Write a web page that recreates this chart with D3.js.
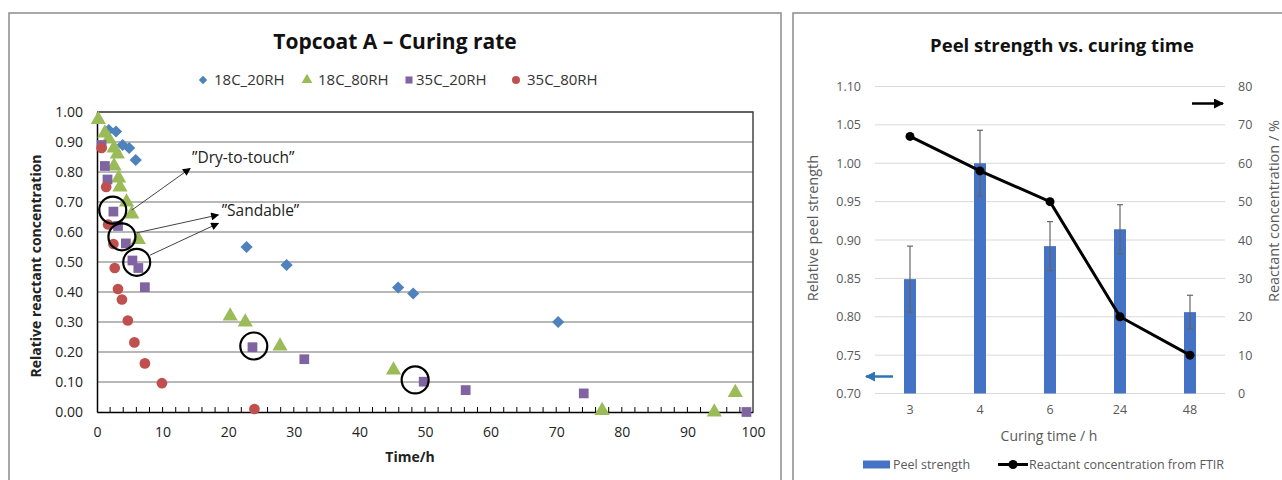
<!DOCTYPE html>
<meta charset="utf-8">
<style>
body { margin: 0; background: #fff; }
svg { font-family: "Open Sans", Lato, sans-serif; }
.grid line { stroke: #a0a0a0; stroke-width: 1.4px; }
.grid2 line { stroke: #d9d9d9; stroke-width: 1px; }
</style>
<svg width="1282" height="480"></svg>
<script src="https://d3js.org/d3.v7.min.js"></script>
<script>
// ---- left chart data: [time h, relative concentration]
var s18_20 = [[1.8,0.94],[2.9,0.935],[3.9,0.89],[4.9,0.88],[5.9,0.84],[22.8,0.55],[28.9,0.49],[45.9,0.415],[48.2,0.395],[70.3,0.30]];
var s18_80 = [[0.2,0.975],[1.2,0.93],[1.8,0.91],[2.6,0.88],[3.1,0.86],[2.6,0.82],[3.3,0.78],[3.5,0.75],[4.5,0.70],[5.3,0.66],[6.3,0.575],[20.3,0.32],[22.6,0.30],[27.9,0.22],[45.2,0.14],[77.0,0.005],[94.1,0.0],[97.3,0.065]];
var s35_20 = [[0.7,0.89],[1.2,0.82],[1.6,0.775],[2.5,0.668],[3.2,0.62],[4.4,0.562],[5.4,0.505],[6.3,0.48],[7.3,0.416],[23.7,0.216],[31.6,0.176],[49.8,0.101],[56.2,0.073],[74.2,0.062],[99.0,0.0]];
var s35_80 = [[0.7,0.88],[1.4,0.75],[1.7,0.625],[2.5,0.56],[2.7,0.48],[3.2,0.41],[3.8,0.375],[4.7,0.305],[5.7,0.232],[7.3,0.162],[9.9,0.096],[24.0,0.01]];
var seriesNames = ["18C_20RH", "18C_80RH", "35C_20RH", "35C_80RH"];
var seriesColors = ["#4f81bd", "#9bbb59", "#8064a2", "#c0504d"];
var seriesShapes = [d3.symbolDiamond2, d3.symbolTriangle, d3.symbolSquare, d3.symbolCircle];
var xTicksL = [0,10,20,30,40,50,60,70,80,90,100];
var yTicksL = [0,0.1,0.2,0.3,0.4,0.5,0.6,0.7,0.8,0.9,1.0];
// highlighted points (circles) and annotation arrows
var highlights = [[2.4,0.673],[3.8,0.584],[6.05,0.499],[23.9,0.22],[48.5,0.107]];
var arrowsL = [[[5.3,0.673],[14.2,0.812]],[[5.8,0.596],[18.5,0.657]],[[8.1,0.523],[18.5,0.629]]];
var labelsL = [["\u201DDry-to-touch\u201D",14.5,0.83],["\u201DSandable\u201D",19.0,0.655]];

// ---- right chart data
var cureTimes = ["3","4","6","24","48"];
var peel = [0.849, 1.0, 0.892, 0.914, 0.806];
var peelErr = [0.043, 0.043, 0.032, 0.032, 0.022];
var ftir = [67, 58, 50, 20, 10];
var yTicksR1 = [0.70,0.75,0.80,0.85,0.90,0.95,1.00,1.05,1.10];
var yTicksR2 = [0,10,20,30,40,50,60,70,80];

var svg = d3.select("svg");
var defs = svg.append("defs");
function marker(id, color, w, h) {
  defs.append("marker").attr("id", id).attr("viewBox", "0 0 10 10")
    .attr("refX", 9).attr("refY", 5).attr("markerWidth", w).attr("markerHeight", h)
    .attr("markerUnits", "userSpaceOnUse").attr("orient", "auto")
    .append("path").attr("d", "M0,0L10,5L0,10z").attr("fill", color);
}
marker("ahThin", "#000", 10, 8);
marker("ahBlack", "#000", 10, 10);
marker("ahBlue", "#2e75b6", 10, 10);

// panel frames
svg.append("rect").attr("x", 9).attr("y", 13).attr("width", 772).attr("height", 480)
  .attr("fill", "none").attr("stroke", "#8c8c8c").attr("stroke-width", 1.5);
svg.append("rect").attr("x", 793).attr("y", 13).attr("width", 500).attr("height", 480)
  .attr("fill", "none").attr("stroke", "#8c8c8c").attr("stroke-width", 1.5);

// =========== left chart
var x = d3.scaleLinear().domain([0, 100]).range([97, 753]);
var y = d3.scaleLinear().domain([0, 1]).range([412, 112]);

svg.append("text").attr("x", 395).attr("y", 49).attr("text-anchor", "middle")
  .attr("font-weight", "bold").attr("font-size", 21).attr("fill", "#111")
  .text("Topcoat A \u2013 Curing rate");

var grid = svg.append("g").attr("class", "grid");
grid.selectAll("line").data(yTicksL.slice(1)).enter().append("line")
  .attr("x1", x(0)).attr("x2", x(100)).attr("y1", y).attr("y2", y);
svg.append("path").attr("d", "M" + x(0) + "," + y(1) + "H" + x(100) + "V" + y(0))
  .attr("fill", "none").attr("stroke", "#444").attr("stroke-width", 1.5);

var xAxis = svg.append("g").attr("transform", "translate(0," + y(0) + ")")
  .call(d3.axisBottom(x).tickValues(xTicksL).tickSize(0).tickPadding(15).tickFormat(d3.format("d")));
xAxis.select(".domain").attr("stroke", "#000").attr("stroke-width", 1.5);
xAxis.selectAll("text").attr("font-size", 14).attr("fill", "#222").attr("font-family", "Open Sans");
svg.append("g").selectAll("line").data(d3.range(2, 100, 2)).enter().append("line")
  .attr("x1", x).attr("x2", x).attr("y1", y(0)).attr("y2", y(0) - 5)
  .attr("stroke", "#000").attr("stroke-width", 1);

var yAxis = svg.append("g").attr("transform", "translate(" + x(0) + ",0)")
  .call(d3.axisLeft(y).tickValues(yTicksL).tickSize(0).tickPadding(14).tickFormat(d3.format(".2f")));
yAxis.select(".domain").attr("stroke", "#000").attr("stroke-width", 1.5);
yAxis.selectAll("text").attr("font-size", 14).attr("fill", "#222").attr("font-family", "Open Sans");

svg.append("text").attr("transform", "translate(41,266) rotate(-90)").attr("text-anchor", "middle")
  .attr("font-weight", "bold").attr("font-size", 14).attr("fill", "#222")
  .text("Relative reactant concentration");
svg.append("text").attr("x", 410).attr("y", 462).attr("text-anchor", "middle")
  .attr("font-weight", "bold").attr("font-size", 14).attr("fill", "#222").text("Time/h");

// legend
var legX = [203, 307, 409, 516];
seriesNames.forEach(function (n, i) {
  var g = svg.append("g").attr("transform", "translate(" + legX[i] + ",80)");
  g.append("path").attr("d", d3.symbol().type(seriesShapes[i]).size(i == 0 ? 45 : 50)())
    .attr("fill", seriesColors[i]);
  g.append("text").attr("x", i == 2 ? 7 : 11).attr("y", 5).attr("font-size", 15).attr("fill", "#333").text(n);
});

// points
var allSeries = [s18_20, s18_80, s35_20, s35_80];
var sizes = [95, 100, 95, 90];
allSeries.forEach(function (s, i) {
  svg.append("g").selectAll("path").data(s).enter().append("path")
    .attr("transform", function (d) { return "translate(" + x(d[0]) + "," + y(d[1]) + ")"; })
    .attr("d", d3.symbol().type(seriesShapes[i]).size(sizes[i])())
    .attr("fill", seriesColors[i]);
});

// annotations
svg.append("g").selectAll("circle").data(highlights).enter().append("circle")
  .attr("cx", function (d) { return x(d[0]); }).attr("cy", function (d) { return y(d[1]); })
  .attr("r", 13.5).attr("fill", "none").attr("stroke", "#000").attr("stroke-width", 2.2);
svg.append("g").selectAll("line").data(arrowsL).enter().append("line")
  .attr("x1", function (d) { return x(d[0][0]); }).attr("y1", function (d) { return y(d[0][1]); })
  .attr("x2", function (d) { return x(d[1][0]); }).attr("y2", function (d) { return y(d[1][1]); })
  .attr("stroke", "#444").attr("stroke-width", 1).attr("marker-end", "url(#ahThin)");
svg.append("g").selectAll("text").data(labelsL).enter().append("text")
  .attr("x", function (d) { return x(d[1]); }).attr("y", function (d) { return y(d[2]); })
  .attr("font-size", 15.5).attr("fill", "#222").text(function (d) { return d[0]; });

// =========== right chart
var xb = d3.scaleBand().domain(cureTimes).range([875, 1225]);
var yl = d3.scaleLinear().domain([0.7, 1.1]).range([393.5, 86.5]);
var yr = d3.scaleLinear().domain([0, 80]).range([393.5, 86.5]);
var gray = "#595959";

svg.append("text").attr("x", 1062).attr("y", 52).attr("text-anchor", "middle")
  .attr("font-weight", "bold").attr("font-size", 18.5).attr("fill", "#111")
  .text("Peel strength vs. curing time");

svg.append("g").attr("class", "grid2").selectAll("line").data(yTicksR1).enter().append("line")
  .attr("x1", 875).attr("x2", 1225).attr("y1", yl).attr("y2", yl);

var yAxL = svg.append("g").attr("transform", "translate(875,0)")
  .call(d3.axisLeft(yl).tickValues(yTicksR1).tickSize(0).tickPadding(14).tickFormat(d3.format(".2f")));
var yAxR = svg.append("g").attr("transform", "translate(1225,0)")
  .call(d3.axisRight(yr).tickValues(yTicksR2).tickSize(0).tickPadding(13));
var xAxR = svg.append("g").attr("transform", "translate(0,393.5)")
  .call(d3.axisBottom(xb).tickSize(0).tickPadding(12));
[yAxL, yAxR, xAxR].forEach(function (a) {
  a.select(".domain").remove();
  a.selectAll("text").attr("font-size", 12.5).attr("fill", gray).attr("font-family", "Open Sans");
});

// bars
var bw = 12;
svg.append("g").selectAll("rect").data(peel).enter().append("rect")
  .attr("x", function (d, i) { return xb(cureTimes[i]) + xb.bandwidth() / 2 - bw / 2; })
  .attr("y", function (d) { return yl(d); })
  .attr("width", bw).attr("height", function (d) { return yl(0.7) - yl(d); })
  .attr("fill", "#4472c4");
// error bars
var eb = svg.append("g").attr("stroke", "#666").attr("stroke-width", 1.2);
peel.forEach(function (d, i) {
  var cx = xb(cureTimes[i]) + xb.bandwidth() / 2;
  var hi = yl(d + peelErr[i]), lo = yl(d - peelErr[i]);
  eb.append("line").attr("x1", cx).attr("x2", cx).attr("y1", hi).attr("y2", lo);
  eb.append("line").attr("x1", cx - 3).attr("x2", cx + 3).attr("y1", hi).attr("y2", hi);
  eb.append("line").attr("x1", cx - 3).attr("x2", cx + 3).attr("y1", lo).attr("y2", lo);
});

// line (straight segments)
var line = d3.line()
  .x(function (d, i) { return xb(cureTimes[i]) + xb.bandwidth() / 2; })
  .y(function (d) { return yr(d); });
svg.append("path").datum(ftir).attr("d", line).attr("fill", "none")
  .attr("stroke", "#000").attr("stroke-width", 3);
svg.append("g").selectAll("circle").data(ftir).enter().append("circle")
  .attr("cx", function (d, i) { return xb(cureTimes[i]) + xb.bandwidth() / 2; })
  .attr("cy", function (d) { return yr(d); }).attr("r", 4.5).attr("fill", "#000");

// axis titles
svg.append("text").attr("transform", "translate(818,228) rotate(-90)").attr("text-anchor", "middle")
  .attr("font-size", 14.5).attr("fill", gray).text("Relative peel strength");
svg.append("text").attr("transform", "translate(1279,211) rotate(-90)").attr("text-anchor", "middle")
  .attr("font-size", 14.5).attr("fill", gray).text("Reactant concentration / %");
svg.append("text").attr("x", 1049).attr("y", 441).attr("text-anchor", "middle")
  .attr("font-size", 14).attr("fill", gray).text("Curing time / h");

// axis direction arrows
svg.append("line").attr("x1", 1192).attr("x2", 1223).attr("y1", 103.5).attr("y2", 103.5)
  .attr("stroke", "#000").attr("stroke-width", 2.5).attr("marker-end", "url(#ahBlack)");
svg.append("line").attr("x1", 893).attr("x2", 866).attr("y1", 376.5).attr("y2", 376.5)
  .attr("stroke", "#2e75b6").attr("stroke-width", 2.5).attr("marker-end", "url(#ahBlue)");

// legend
svg.append("rect").attr("x", 863).attr("y", 460.5).attr("width", 27).attr("height", 8).attr("fill", "#4472c4");
svg.append("text").attr("x", 893).attr("y", 469).attr("font-size", 12.5).attr("fill", gray).text("Peel strength");
svg.append("line").attr("x1", 998).attr("x2", 1028).attr("y1", 464.5).attr("y2", 464.5)
  .attr("stroke", "#000").attr("stroke-width", 3);
svg.append("circle").attr("cx", 1013).attr("cy", 464.5).attr("r", 4.5).attr("fill", "#000");
svg.append("text").attr("x", 1029).attr("y", 469).attr("font-size", 12.5).attr("fill", gray)
  .text("Reactant concentration from FTIR");
</script>
